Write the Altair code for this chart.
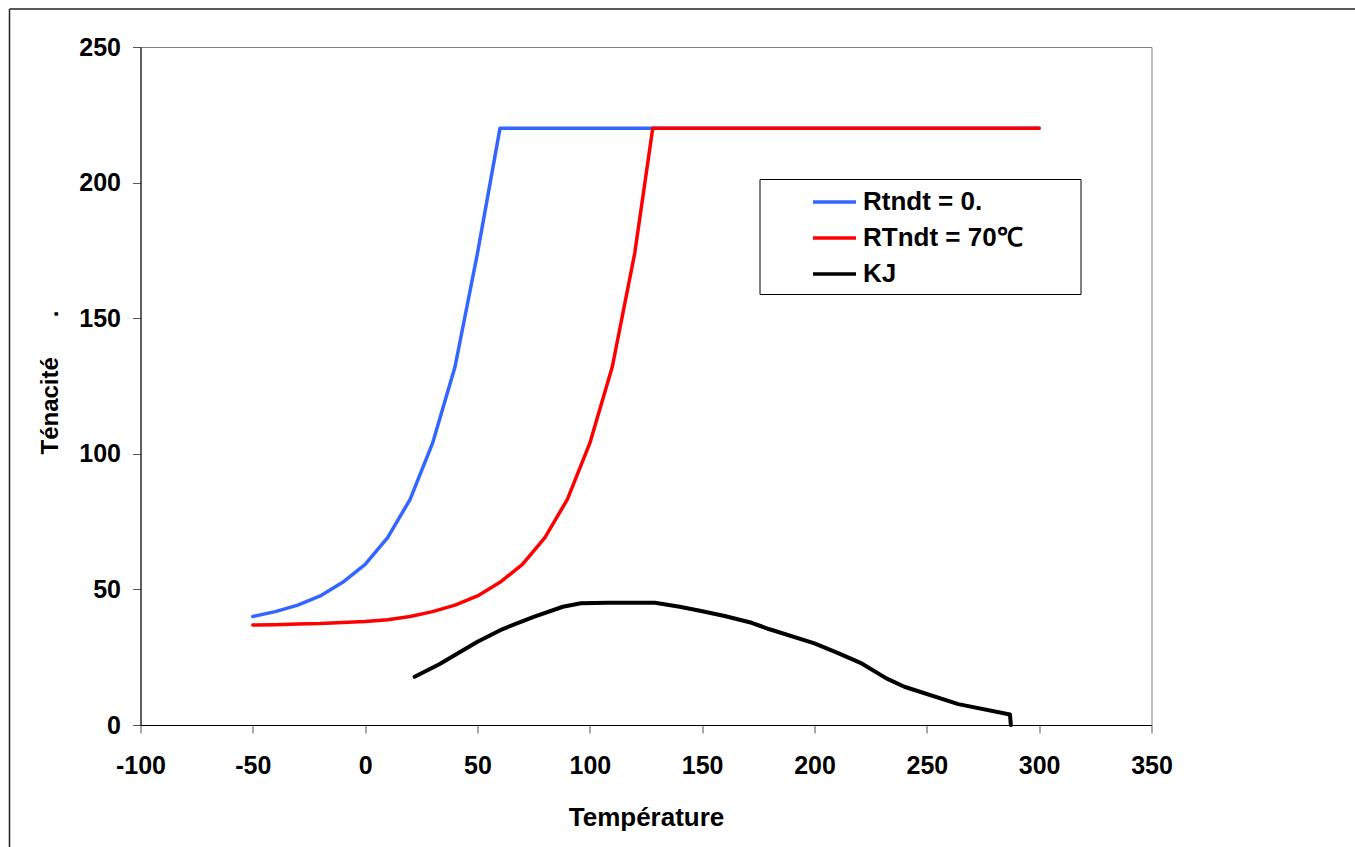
import altair as alt
import pandas as pd

# ---- data ----
series_names = ["Rtndt = 0.", "RTndt = 70℃", "KJ"]
series_colors = ["#3366FF", "#FF0000", "#000000"]

blue_t = [-50, -40, -30, -20, -10, 0, 10, 20, 30, 40, 50, 60, 300]
blue_v = [40.0, 41.8, 44.2, 47.6, 52.6, 59.2, 69.1, 83.2, 103.9, 132.1, 174.0, 220.0, 220.0]

red_t = [-50, -40, -30, -20, -10, 0, 10, 20, 30, 40, 50, 60, 70, 80, 90, 100, 110, 120, 128, 300]
red_v = [36.9, 37.0, 37.2, 37.4, 37.8, 38.2, 38.8, 40.0, 41.8, 44.2, 47.6, 52.6, 59.2, 69.1,
         83.2, 103.9, 132.1, 174.0, 220.0, 220.0]

kj_t = [22, 33, 50, 61, 75, 88, 96, 108, 129, 140, 149, 160, 172, 180, 200, 210, 221, 232,
        240, 264, 287, 287.4]
kj_v = [17.8, 22.4, 30.7, 35.3, 39.9, 43.6, 44.9, 45.1, 45.1, 43.6, 42.1, 40.2, 37.7, 35.3,
        30.1, 26.7, 22.7, 17.2, 14.1, 7.7, 3.9, 0.0]

x_ticks = [-100, -50, 0, 50, 100, 150, 200, 250, 300, 350]
y_ticks = [0, 50, 100, 150, 200, 250]

FONT = "Liberation Sans"
NB = "\u00a0"
ZW = "\u200b"


def frame(ts, vs, name):
    return pd.DataFrame({"T": ts, "V": vs, "series": name, "idx": list(range(len(ts)))})


dfs = [frame(blue_t, blue_v, series_names[0]),
       frame(red_t, red_v, series_names[1]),
       frame(kj_t, kj_v, series_names[2])]

x_enc = alt.X(
    "T:Q",
    scale=alt.Scale(domain=[-100, 350], nice=False, zero=False),
    axis=alt.Axis(values=x_ticks, title="Température", tickSize=8, labelPadding=20,
                  titleY=100, titleBaseline="alphabetic", labelFlush=False,
                  labelExpr="toString(datum.value)"),
)
y_enc = alt.Y(
    "V:Q",
    scale=alt.Scale(domain=[0, 250], nice=False),
    axis=alt.Axis(values=y_ticks, title="Ténacité" + NB * 6 + ".", tickSize=8, labelPadding=12,
                  titleX=-83, titleY=335, titleBaseline="alphabetic", titleAlign="center",
                  titleAngle=270, titleFontSize=24, labelFlush=False),
)

legend = alt.Legend(
    orient="none", legendX=619, legendY=132, title=None, padding=7,
    strokeColor="black", fillColor="white",
    symbolType="M-1.509,0H1.509", symbolSize=812, symbolStrokeWidth=3.5, symbolOffset=52,
    labelFont=FONT, labelFontSize=26, labelFontWeight="bold", labelColor="black",
    labelOffset=12.5, rowPadding=7, labelLimit=600,
    labelExpr="datum.label + '" + NB * 7 + ZW + "'",
)

color_scale = alt.Scale(domain=series_names, range=series_colors)

layers = []
for i, d in enumerate(dfs):
    layers.append(
        alt.Chart(d).mark_line(strokeWidth=4 if i == 2 else 3.5, strokeJoin="round", strokeCap="round")
        .encode(
            x=x_enc, y=y_enc,
            color=alt.Color("series:N", scale=color_scale, legend=legend),
            order="idx:Q",
        )
    )

dummy = pd.DataFrame({"a": [0]})
frame_left = alt.Chart(dummy).mark_rule(color="#222222", strokeWidth=1.5).encode(
    x=alt.value(-131), y=alt.value(-38), y2=alt.value(820))
frame_top = alt.Chart(dummy).mark_rule(color="#222222", strokeWidth=1.5).encode(
    x=alt.value(-131), x2=alt.value(1240), y=alt.value(-38))

chart = (
    alt.layer(*layers, frame_left, frame_top)
    .properties(
        width=1011, height=678,
        padding={"left": 140.5, "top": 47, "right": 203.5, "bottom": 122},
        autosize=alt.AutoSizeParams(type="none"),
        background="white",
    )
    .configure_view(stroke="#808080", strokeWidth=1)
    .configure_axis(
        labelFont=FONT, labelFontSize=25, labelFontWeight="bold", labelColor="black",
        titleFont=FONT, titleFontSize=26, titleFontWeight="bold", titleColor="black",
        domainColor="black", domainWidth=1, tickColor="#555555", tickWidth=1, grid=False,
    )
)

chart.save("out.html", embed_options={"renderer": "svg", "actions": False})
